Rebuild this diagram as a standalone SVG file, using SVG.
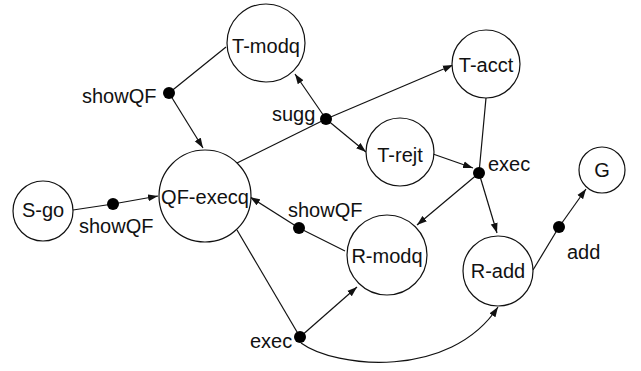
<svg xmlns="http://www.w3.org/2000/svg" width="641" height="371" viewBox="0 0 641 371">
<style>
.node circle{fill:#fff;stroke:#111;stroke-width:1.2}
text{font-family:"Liberation Sans",Arial,sans-serif;font-size:20px;fill:#111}
.node text{text-anchor:middle}
.edge{fill:none;stroke:#111;stroke-width:1.2}
.arr{marker-end:url(#ah)}
.dot{fill:#000}
</style>
<defs>
<marker id="ah" viewBox="0 0 10 8" refX="10" refY="4" markerWidth="10" markerHeight="8" markerUnits="userSpaceOnUse" orient="auto">
<path d="M0,0.5 L10,4 L0,7.5 Z" fill="#111"/>
</marker>
</defs>
<rect width="641" height="371" fill="#fff"/>
<g id="connectors">
<line class="edge" x1="226" y1="47" x2="169" y2="93"/>
<line class="edge arr" x1="169" y1="93" x2="203" y2="148"/>
<line class="edge" x1="73" y1="210" x2="113" y2="204"/>
<line class="edge arr" x1="113" y1="204" x2="158" y2="196"/>
<line class="edge" x1="237" y1="163" x2="326" y2="119"/>
<line class="edge arr" x1="326" y1="119" x2="295" y2="74"/>
<line class="edge arr" x1="326" y1="119" x2="453" y2="65"/>
<line class="edge arr" x1="326" y1="119" x2="366" y2="152"/>
<line class="edge" x1="486" y1="98" x2="479" y2="173"/>
<line class="edge arr" x1="433" y1="154" x2="473" y2="168"/>
<line class="edge arr" x1="479" y1="173" x2="417" y2="225"/>
<line class="edge arr" x1="479" y1="173" x2="497" y2="233"/>
<line class="edge" x1="345" y1="251" x2="299" y2="228"/>
<line class="edge arr" x1="299" y1="228" x2="250" y2="197"/>
<line class="edge" x1="237" y1="230" x2="300" y2="337"/>
<line class="edge arr" x1="300" y1="337" x2="357" y2="287"/>
<path class="edge arr" d="M301,343 C335,368 450,380 498,307"/>
<line class="edge" x1="533" y1="270" x2="559" y2="227"/>
<line class="edge arr" x1="559" y1="227" x2="586" y2="189"/>
<circle class="dot" cx="169" cy="93" r="6"/>
<circle class="dot" cx="113" cy="204" r="6"/>
<circle class="dot" cx="326" cy="119" r="6"/>
<circle class="dot" cx="479" cy="173" r="6"/>
<circle class="dot" cx="299" cy="228" r="6"/>
<circle class="dot" cx="300" cy="337" r="6"/>
<circle class="dot" cx="559" cy="227" r="6"/>
<text x="82" y="103">showQF</text>
<text x="272" y="121">sugg</text>
<text x="488" y="171">exec</text>
<text x="79" y="233">showQF</text>
<text x="288" y="217">showQF</text>
<text x="250" y="348">exec</text>
<text x="567" y="259">add</text>
</g>
<g id="T-modq" class="node"><circle cx="266" cy="43" r="39"/><text x="266" y="53">T-modq</text></g>
<g id="T-acct" class="node"><circle cx="486" cy="64" r="34"/><text x="486" y="72">T-acct</text></g>
<g id="T-rejt" class="node"><circle cx="400" cy="152" r="34"/><text x="400" y="162">T-rejt</text></g>
<g id="G" class="node"><circle cx="602" cy="170" r="23"/><text x="602" y="177">G</text></g>
<g id="S-go" class="node"><circle cx="43" cy="211" r="30"/><text x="43" y="217">S-go</text></g>
<g id="QF-execq" class="node"><circle cx="205" cy="196" r="46"/><text x="205" y="204">QF-execq</text></g>
<g id="R-modq" class="node"><circle cx="387" cy="255" r="40"/><text x="387" y="263">R-modq</text></g>
<g id="R-add" class="node"><circle cx="498" cy="271" r="35"/><text x="498" y="278">R-add</text></g>
</svg>
